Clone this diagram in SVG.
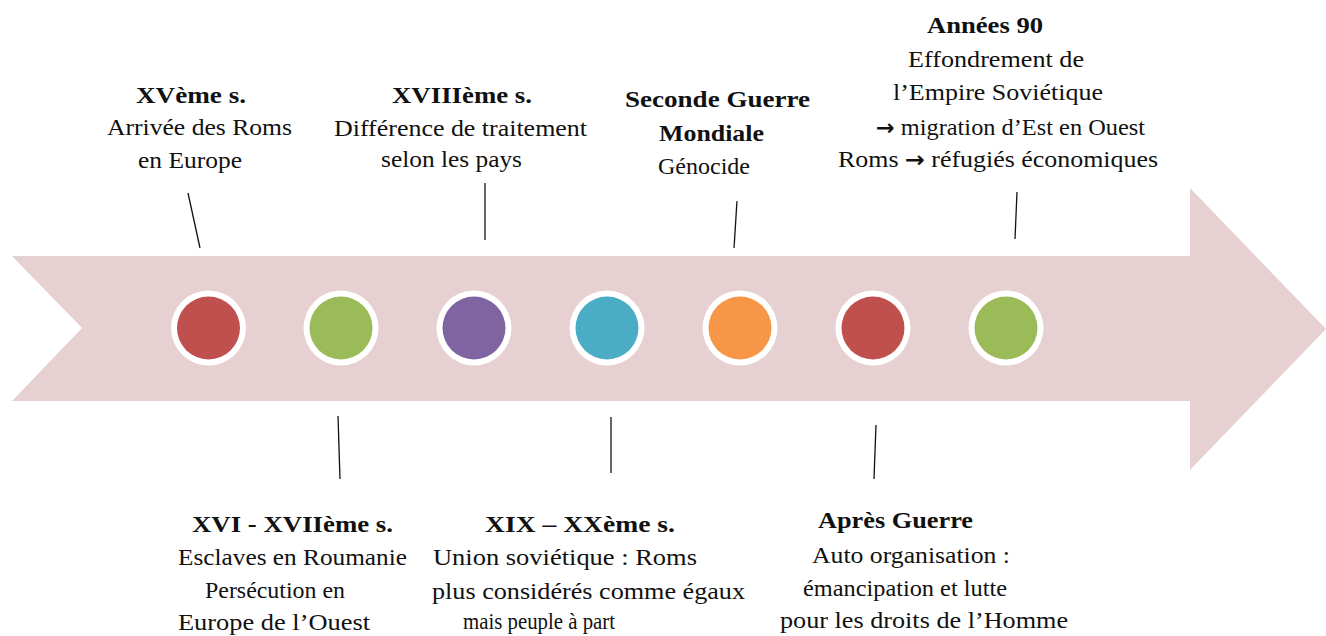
<svg xmlns="http://www.w3.org/2000/svg" width="1326" height="636" viewBox="0 0 1326 636">
<style>
text{font-family:"Liberation Serif","Times New Roman",serif;font-size:24px;fill:#111}
.b{font-weight:bold}
.ar{font-family:"DejaVu Sans",sans-serif;font-weight:bold;font-size:22px}
.ring{fill:#fff}
.ln{stroke:#111;stroke-width:1.3;fill:none}
</style>
<rect width="1326" height="636" fill="#fff"/>
<g id="arrow">
<polygon points="12,256 1190,256 1190,188 1326,329 1190,470 1190,401 12,401 82,328" fill="#E7D0D1"/>
</g>
<g id="dots">
<circle class="ring" cx="208.5" cy="328" r="37.5"/><circle cx="208.5" cy="328" r="31.5" fill="#C0504D"/>
<circle class="ring" cx="341" cy="328" r="37.5"/><circle cx="341" cy="328" r="31.5" fill="#9BBB59"/>
<circle class="ring" cx="474" cy="328" r="37.5"/><circle cx="474" cy="328" r="31.5" fill="#8064A2"/>
<circle class="ring" cx="607" cy="328" r="37.5"/><circle cx="607" cy="328" r="31.5" fill="#4BACC6"/>
<circle class="ring" cx="740" cy="328" r="37.5"/><circle cx="740" cy="328" r="31.5" fill="#F79646"/>
<circle class="ring" cx="873" cy="328" r="37.5"/><circle cx="873" cy="328" r="31.5" fill="#C0504D"/>
<circle class="ring" cx="1006" cy="328" r="37.5"/><circle cx="1006" cy="328" r="31.5" fill="#9BBB59"/>
</g>
<g id="connectors">
<line class="ln" x1="188" y1="193" x2="200" y2="248"/>
<line class="ln" x1="485" y1="183" x2="485" y2="240"/>
<line class="ln" x1="737" y1="201" x2="734" y2="248"/>
<line class="ln" x1="1017" y1="192" x2="1015" y2="239"/>
<line class="ln" x1="338" y1="416" x2="340" y2="479"/>
<line class="ln" x1="611" y1="417" x2="611" y2="473"/>
<line class="ln" x1="876" y1="425" x2="874" y2="479"/>
</g>
<g id="n1">
<text class="b" x="136" y="103" textLength="110" lengthAdjust="spacingAndGlyphs">XVème s.</text>
<text x="107" y="135" textLength="185" lengthAdjust="spacingAndGlyphs">Arrivée des Roms</text>
<text x="138" y="168" textLength="104" lengthAdjust="spacingAndGlyphs">en Europe</text>
</g>
<g id="n2">
<text class="b" x="192" y="532" textLength="201" lengthAdjust="spacingAndGlyphs">XVI - XVIIème s.</text>
<text x="178" y="565" textLength="229" lengthAdjust="spacingAndGlyphs">Esclaves en Roumanie</text>
<text x="205" y="598" textLength="140" lengthAdjust="spacingAndGlyphs">Persécution en</text>
<text x="178" y="630" textLength="192" lengthAdjust="spacingAndGlyphs">Europe de l’Ouest</text>
</g>
<g id="n3">
<text class="b" x="392" y="103" textLength="140" lengthAdjust="spacingAndGlyphs">XVIIIème s.</text>
<text x="334" y="136" textLength="253" lengthAdjust="spacingAndGlyphs">Différence de traitement</text>
<text x="381" y="167" textLength="141" lengthAdjust="spacingAndGlyphs">selon les pays</text>
</g>
<g id="n4">
<text class="b" x="485" y="532" textLength="190" lengthAdjust="spacingAndGlyphs">XIX – XXème s.</text>
<text x="433" y="565" textLength="264" lengthAdjust="spacingAndGlyphs">Union soviétique  : Roms</text>
<text x="432" y="599" textLength="313" lengthAdjust="spacingAndGlyphs">plus considérés comme égaux</text>
<text x="463" y="629" textLength="152" lengthAdjust="spacingAndGlyphs">mais peuple à part</text>
</g>
<g id="n5">
<text class="b" x="625" y="107" textLength="185" lengthAdjust="spacingAndGlyphs">Seconde Guerre</text>
<text class="b" x="659" y="141" textLength="105" lengthAdjust="spacingAndGlyphs">Mondiale</text>
<text x="658" y="174" textLength="92" lengthAdjust="spacingAndGlyphs">Génocide</text>
</g>
<g id="n6">
<text class="b" x="818" y="528" textLength="155" lengthAdjust="spacingAndGlyphs">Après Guerre</text>
<text x="812" y="563" textLength="198" lengthAdjust="spacingAndGlyphs">Auto organisation  :</text>
<text x="803" y="596" textLength="204" lengthAdjust="spacingAndGlyphs">émancipation et lutte</text>
<text x="780" y="628" textLength="288" lengthAdjust="spacingAndGlyphs">pour les droits  de l’Homme</text>
</g>
<g id="n7">
<text class="b" x="927" y="33" textLength="116" lengthAdjust="spacingAndGlyphs">Années 90</text>
<text x="908" y="67" textLength="176" lengthAdjust="spacingAndGlyphs">Effondrement  de</text>
<text x="893" y="100" textLength="210" lengthAdjust="spacingAndGlyphs">l’Empire  Soviétique</text>
<text x="876" y="135" textLength="269" lengthAdjust="spacingAndGlyphs"><tspan class="ar">→</tspan> migration  d’Est en Ouest</text>
<text x="838" y="167" textLength="320" lengthAdjust="spacingAndGlyphs">Roms <tspan class="ar">→</tspan> réfugiés économiques</text>
</g>
</svg>
